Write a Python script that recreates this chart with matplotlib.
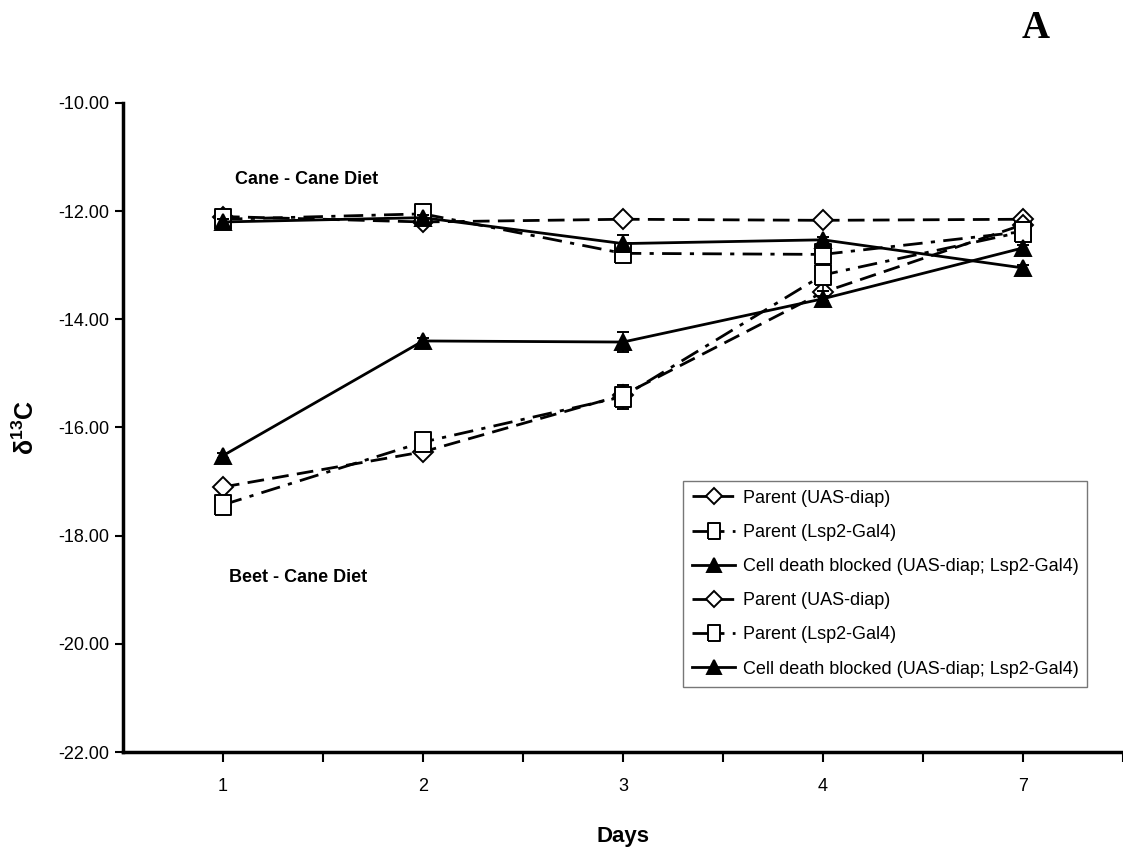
import matplotlib
matplotlib.use("Agg")
import matplotlib.pyplot as plt
import numpy as np

plt.rcParams['font.family'] = ['Liberation Sans', 'DejaVu Sans']
plt.rcParams['mathtext.fontset'] = 'custom'
plt.rcParams['mathtext.rm'] = 'Liberation Sans'
plt.rcParams['mathtext.bf'] = 'Liberation Sans:bold'
plt.rcParams['mathtext.it'] = 'Liberation Sans:italic'

# ---- data ----
days = ['1', '2', '3', '4', '7']
cane_uas = [-12.10, -12.20, -12.15, -12.17, -12.15]
cane_lsp2 = [-12.15, -12.05, -12.78, -12.80, -12.38]
cane_cdb = [-12.20, -12.12, -12.60, -12.53, -13.05]
beet_uas = [-17.10, -16.45, -15.40, -13.50, -12.25]
beet_lsp2 = [-17.43, -16.27, -15.43, -13.18, -12.38]
beet_cdb = [-16.52, -14.40, -14.42, -13.62, -12.68]
cane_lsp2_err = [0.05, 0.05, 0.15, 0.10, 0.05]
beet_lsp2_err = [0.08, 0.15, 0.22, 0.30, 0.10]
beet_cdb_err = [0.05, 0.05, 0.18, 0.05, 0.05]
cane_cdb_err = [0.05, 0.05, 0.15, 0.05, 0.05]

label_uas = 'Parent (UAS-diap)'
label_lsp2 = 'Parent (Lsp2-Gal4)'
label_cdb = 'Cell death blocked (UAS-diap; Lsp2-Gal4)'

fig = plt.figure(figsize=(11.23, 8.58), dpi=100)
ax = fig.add_axes([0.1095, 0.1235, 0.8905, 0.7565])

x = np.arange(len(days)) + 0.5
rect = [(-0.38, -0.5), (0.38, -0.5), (0.38, 0.5), (-0.38, 0.5), (-0.38, -0.5)]

lw = 2.0
dash = (0, (6, 3))
dashdot = (0, (7, 3, 1.5, 3))

common = dict(color='black', lw=lw, markeredgecolor='black', markeredgewidth=1.4)

h1, = ax.plot(x, cane_uas, linestyle=dash, marker='D', markersize=10, markerfacecolor='white',
              zorder=3, **common)
h2 = ax.errorbar(x, cane_lsp2, yerr=cane_lsp2_err, linestyle=dashdot, marker=rect, markersize=15,
                 markerfacecolor='white', ecolor='black', elinewidth=1.2, capsize=4,
                 zorder=3, **common)
h3 = ax.errorbar(x, cane_cdb, yerr=cane_cdb_err, linestyle='-', marker='^', markersize=12,
                 markerfacecolor='black', ecolor='black', elinewidth=1.2, capsize=4,
                 zorder=4, **common)
h4, = ax.plot(x, beet_uas, linestyle=dash, marker='D', markersize=10, markerfacecolor='white',
              zorder=3, **common)
h5 = ax.errorbar(x, beet_lsp2, yerr=beet_lsp2_err, linestyle=dashdot, marker=rect, markersize=15,
                 markerfacecolor='white', ecolor='black', elinewidth=1.2, capsize=4,
                 zorder=3, **common)
h6 = ax.errorbar(x, beet_cdb, yerr=beet_cdb_err, linestyle='-', marker='^', markersize=12,
                 markerfacecolor='black', ecolor='black', elinewidth=1.2, capsize=4,
                 zorder=4, **common)

ax.set_xlim(0, len(days))
ax.set_ylim(-22, -10)
yt = np.arange(-22, -9, 2)
ax.set_yticks(yt)
ax.set_yticklabels([f'{v:.2f}' for v in yt], fontsize=13)
ax.set_xticks(x)
ax.set_xticklabels(days, fontsize=13)
ax.set_xticks(np.arange(1, len(days) + 1), minor=True)
ax.tick_params(axis='x', which='both', direction='out', length=7, width=1.5, pad=12)
ax.tick_params(axis='y', direction='out', length=6, width=1.5, pad=4)

for s in ['top', 'right']:
    ax.spines[s].set_visible(False)
for s in ['left', 'bottom']:
    ax.spines[s].set_linewidth(2.5)

ax.set_xlabel('Days', fontsize=16, fontweight='bold', labelpad=22)
ax.set_ylabel('δ$^{\\mathbf{13}}$C', fontsize=18, fontweight='bold', labelpad=14)

ax.text(0.92, -11.42, 'Cane - Cane Diet', fontsize=13, fontweight='bold', ha='center', va='center')
ax.text(0.875, -18.77, 'Beet - Cane Diet', fontsize=13, fontweight='bold', ha='center', va='center')

fig.text(0.922, 0.988, 'A', fontsize=28, fontweight='bold', family='Liberation Serif',
         ha='center', va='top')

leg = ax.legend([h1, h2[0], h3[0], h4, h5[0], h6[0]],
                [label_uas, label_lsp2, label_cdb, label_uas, label_lsp2, label_cdb],
                loc='upper left', bbox_to_anchor=(0.56, 0.418), fontsize=13,
                frameon=True, fancybox=False, edgecolor='#555555', handlelength=2.4,
                handletextpad=0.4, labelspacing=0.95, borderpad=0.5, markerscale=0.8,
                borderaxespad=0)
leg.get_frame().set_linewidth(1.0)

fig.savefig('out.png', dpi=100)
